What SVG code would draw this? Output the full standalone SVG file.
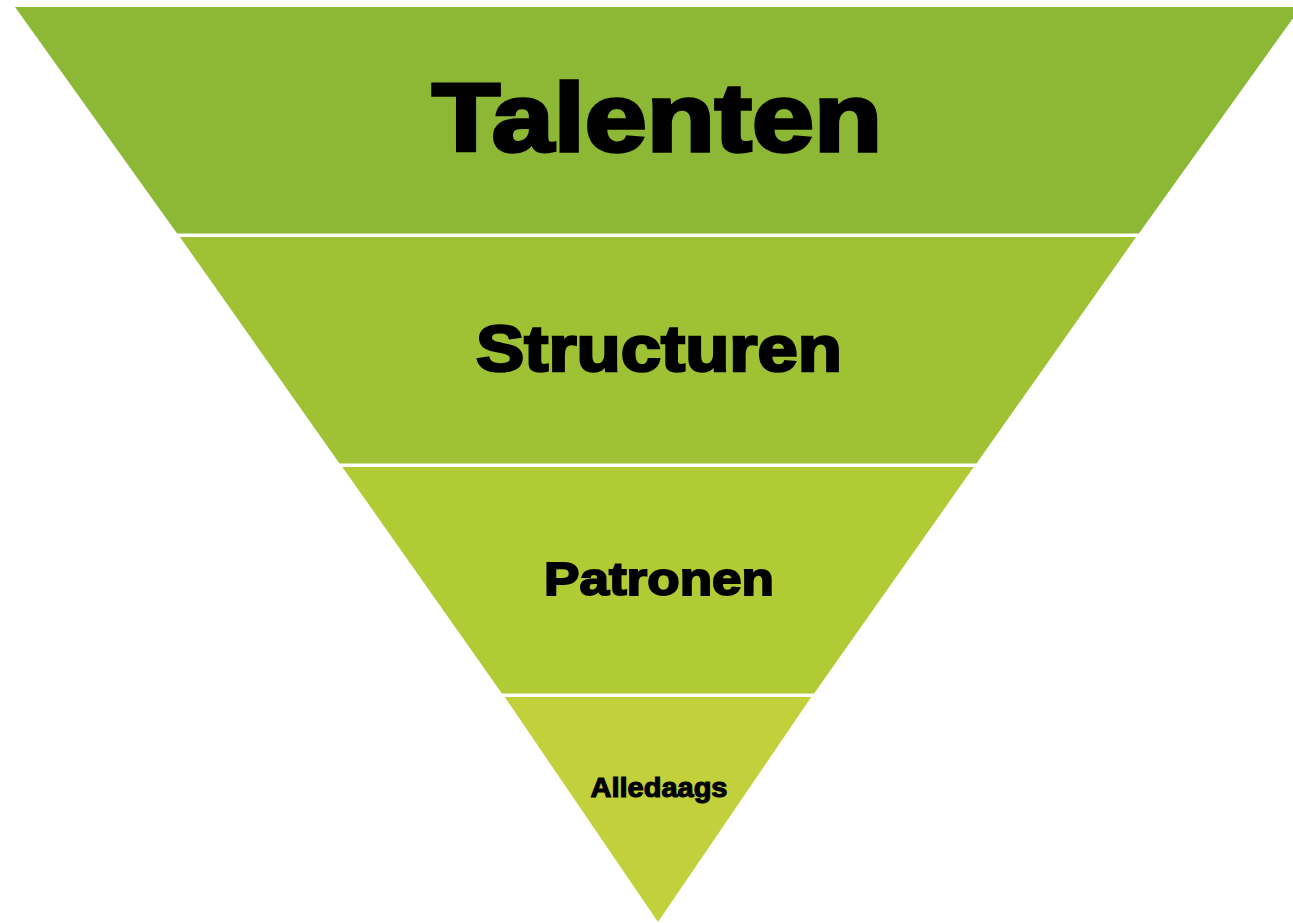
<svg xmlns="http://www.w3.org/2000/svg" width="1293" height="923" viewBox="0 0 1293 923">
<style>
.lbl{font-family:"Liberation Sans",Arial,sans-serif;font-weight:bold;fill:#000;stroke:#000;stroke-linejoin:miter;stroke-miterlimit:2;text-anchor:middle}
</style>
<rect width="1293" height="923" fill="#fff"/>
<g id="band-talenten">
<polygon points="15,7 1301,7 1138.9,233.5 177.1,233.5" fill="#8CB835"/>
<text class="lbl" x="657" y="151" font-size="96" stroke-width="3.5" textLength="450" lengthAdjust="spacingAndGlyphs">Talenten</text>
</g>
<g id="band-structuren">
<polygon points="179.9,237 1136.1,237 976.5,463.5 339.5,463.5" fill="#9EC234"/>
<text class="lbl" x="659" y="371" font-size="65" stroke-width="2.6" textLength="366" lengthAdjust="spacingAndGlyphs">Structuren</text>
</g>
<g id="band-patronen">
<polygon points="342.3,467 973.7,467 814.1,693.5 501.9,693.5" fill="#B1CB35"/>
<text class="lbl" x="659" y="595" font-size="46" stroke-width="1.9" textLength="230" lengthAdjust="spacingAndGlyphs">Patronen</text>
</g>
<g id="band-alledaags">
<polygon points="504.7,697 811.3,697 658,922" fill="#C2D13B"/>
<text class="lbl" x="659" y="797" font-size="27" stroke-width="1.1" textLength="137" lengthAdjust="spacingAndGlyphs">Alledaags</text>
</g>
</svg>
